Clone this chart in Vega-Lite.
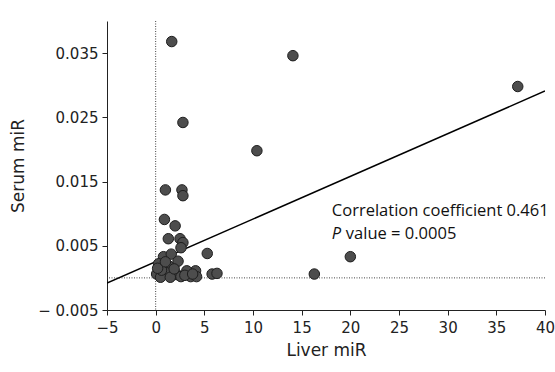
{
  "$schema": "https://vega.github.io/schema/vega-lite/v6.json",
  "width": 438,
  "height": 289,
  "autosize": "none",
  "padding": {"left": 107, "top": 21, "right": 10, "bottom": 62},
  "background": "white",
  "config": {"view": {"stroke": null}, "font": "DejaVu Sans", "axis": {"labelOverlap": false}},
  "datasets": {
    "pts": [
      {"liver": 1.65, "serum": 0.0368}, {"liver": 14.1, "serum": 0.0346}, {"liver": 37.2, "serum": 0.0298},
      {"liver": 2.8, "serum": 0.0242}, {"liver": 10.4, "serum": 0.0198}, {"liver": 20.0, "serum": 0.0033},
      {"liver": 16.3, "serum": 0.0006}, {"liver": 1.0, "serum": 0.0137}, {"liver": 2.7, "serum": 0.0137},
      {"liver": 2.8, "serum": 0.0128}, {"liver": 0.9, "serum": 0.0091}, {"liver": 2.0, "serum": 0.0081},
      {"liver": 1.3, "serum": 0.0061}, {"liver": 2.5, "serum": 0.0061}, {"liver": 2.8, "serum": 0.0055},
      {"liver": 2.6, "serum": 0.0047}, {"liver": 5.3, "serum": 0.0038}, {"liver": 5.8, "serum": 0.0006},
      {"liver": 6.3, "serum": 0.0007}, {"liver": 0.8, "serum": 0.0033}, {"liver": 1.6, "serum": 0.0037},
      {"liver": 0.3, "serum": 0.0022}, {"liver": 1.3, "serum": 0.0019}, {"liver": 2.3, "serum": 0.0026},
      {"liver": 0.1, "serum": 0.0006}, {"liver": 1.1, "serum": 0.0008}, {"liver": 2.2, "serum": 0.0005},
      {"liver": 0.5, "serum": 0.0001}, {"liver": 1.5, "serum": 0.0001}, {"liver": 2.6, "serum": 0.0002},
      {"liver": 3.6, "serum": 0.0002}, {"liver": 4.1, "serum": 0.0011}, {"liver": 3.2, "serum": 0.0011},
      {"liver": 4.2, "serum": 0.0002}, {"liver": 3.0, "serum": 0.0004}, {"liver": 1.9, "serum": 0.0014},
      {"liver": 0.6, "serum": 0.0012}, {"liver": 3.8, "serum": 0.0006}, {"liver": 0.2, "serum": 0.0015},
      {"liver": 1.0, "serum": 0.0025}
    ],
    "fit": [{"liver": -5, "serum": -0.0008}, {"liver": 40, "serum": 0.0291}],
    "notes": [
      {"liver": 18.1, "serum": 0.00965, "label": "Correlation coefficient 0.461"},
      {"liver": 18.1, "serum": 0.00607, "label": "P"}
    ]
  },
  "layer": [
    {
      "data": {"values": [{}]},
      "mark": {"type": "rule", "color": "#444", "strokeDash": [1, 1.5], "strokeWidth": 1},
      "encoding": {"x": {"datum": 0, "type": "quantitative"}}
    },
    {
      "data": {"values": [{}]},
      "mark": {"type": "rule", "color": "#444", "strokeDash": [1, 1.5], "strokeWidth": 1},
      "encoding": {"y": {"datum": 0, "type": "quantitative"}}
    },
    {
      "data": {"name": "fit"},
      "mark": {"type": "line", "color": "black", "strokeWidth": 1.5, "clip": true},
      "encoding": {
        "x": {"field": "liver", "type": "quantitative"},
        "y": {"field": "serum", "type": "quantitative"}
      }
    },
    {
      "data": {"name": "pts"},
      "mark": {"type": "point", "filled": true, "size": 110, "fill": "#4d4d4d", "stroke": "#1e1e1e", "strokeWidth": 1, "opacity": 1},
      "encoding": {
        "x": {
          "field": "liver", "type": "quantitative",
          "scale": {"domain": [-5, 40], "nice": false, "zero": false},
          "axis": {
            "title": "Liver miR", "titleFont": "DejaVu Sans", "titleFontSize": 17, "titleFontWeight": "normal", "titleColor": "#222", "titlePadding": 7,
            "values": [-5, -2.5, 0, 2.5, 5, 7.5, 10, 12.5, 15, 17.5, 20, 22.5, 25, 27.5, 30, 32.5, 35, 37.5, 40],
            "labelExpr": "replace('' + datum.value, '-', '−')",
            "labelOpacity": {"condition": {"test": "datum.value % 5 === 0", "value": 1}, "value": 0},
            "labelFont": "DejaVu Sans", "labelFontSize": 15, "labelColor": "#222", "labelPadding": 5, "labelOverlap": false,
            "tickSize": {"condition": {"test": "datum.value % 5 === 0", "value": 5}, "value": 3},
            "domainColor": "#222", "tickColor": "#222", "grid": false, "labelFlush": false
          }
        },
        "y": {
          "field": "serum", "type": "quantitative",
          "scale": {"domain": [-0.005, 0.04], "nice": false, "zero": false},
          "axis": {
            "title": "Serum miR", "titleFont": "DejaVu Sans", "titleFontSize": 17, "titleFontWeight": "normal", "titleColor": "#222", "titlePadding": 10,
            "values": [-0.005, 0, 0.005, 0.01, 0.015, 0.02, 0.025, 0.03, 0.035, 0.04],
            "labelExpr": "replace('' + datum.value, '-', '− ')",
            "labelFont": "DejaVu Sans", "labelFontSize": 15, "labelColor": "#222", "labelPadding": 4, "labelOverlap": false,
            "tickSize": 5,
            "domainColor": "#222", "tickColor": "#222", "grid": false, "labelFlush": false
          }
        }
      }
    },
    {
      "data": {"name": "notes"},
      "transform": [{"filter": "datum.label !== 'P'"}],
      "mark": {"type": "text", "align": "left", "baseline": "alphabetic", "font": "Open Sans", "fontSize": 16.5, "color": "#111"},
      "encoding": {
        "x": {"field": "liver", "type": "quantitative"},
        "y": {"field": "serum", "type": "quantitative"},
        "text": {"field": "label"}
      }
    },
    {
      "data": {"name": "notes"},
      "transform": [{"filter": "datum.label === 'P'"}],
      "mark": {"type": "text", "align": "left", "baseline": "alphabetic", "font": "Open Sans", "fontSize": 16.5, "fontStyle": "italic", "color": "#111"},
      "encoding": {
        "x": {"field": "liver", "type": "quantitative"},
        "y": {"field": "serum", "type": "quantitative"},
        "text": {"field": "label"}
      }
    },
    {
      "data": {"name": "notes"},
      "transform": [{"filter": "datum.label === 'P'"}],
      "mark": {"type": "text", "align": "left", "baseline": "alphabetic", "font": "Open Sans", "fontSize": 16.5, "color": "#111", "dx": 14},
      "encoding": {
        "x": {"field": "liver", "type": "quantitative"},
        "y": {"field": "serum", "type": "quantitative"},
        "text": {"value": "value = 0.0005"}
      }
    }
  ]
}
